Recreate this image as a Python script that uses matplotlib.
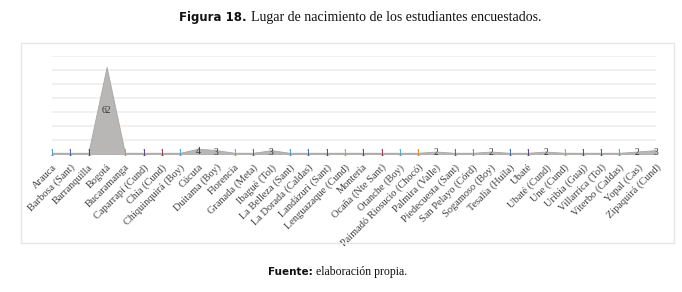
import matplotlib
matplotlib.use("Agg")
import matplotlib.pyplot as plt
from matplotlib.patches import Rectangle

ciudades = ["Arauca", "Barbosa (Sant)", "Barranquilla", "Bogotá", "Bucaramanga",
            "Caparrapí (Cund)", "Chía (Cund)", "Chiquinquirá (Boy)", "Cúcuta",
            "Duitama (Boy)", "Florencia", "Granada (Meta)", "Ibagué (Tol)",
            "La Belleza (Sant)", "La Dorada (Caldas)", "Landázuri (Sant)",
            "Lenguazaque (Cund)", "Montería", "Ocaña (Nte Sant)", "Otanche (Boy)",
            "Paimadó Riosucio (Chocó)", "Palmira (Valle)", "Piedecuesta (Sant)",
            "San Pelayo (Córd)", "Sogamoso (Boy)", "Tesalia (Huila)", "Ubaté",
            "Ubaté (Cund)", "Une (Cund)", "Uribia (Guaj)", "Villarrica (Tol)",
            "Viterbo (Caldas)", "Yopal (Cas)", "Zipaquirá (Cund)"]
estudiantes = [1, 1, 1, 62, 1, 1, 1, 1, 4, 3, 1, 1, 3, 1, 1, 1, 1, 1, 1, 1,
               1, 2, 1, 1, 2, 1, 1, 2, 1, 1, 1, 1, 2, 3]

# colores de las etiquetas de valor 1 (como en el original)
colores_uno = ["#3c8fc9", "#2f5da8", "#4b2e83", "#e08b2c", "#4b2e83",
               "#8b2942", "#3da0c8", "#d9822b", "#2f5da8"]

serif = "Liberation Serif"
sans = "DejaVu Sans"

fig = plt.figure(figsize=(6.82, 2.92), dpi=100)
W, H = 682, 292

# marco del grafico
fig.patches.append(Rectangle((21 / W, 1 - 243 / H), (674 - 21) / W, (243 - 43) / H,
                             transform=fig.transFigure, fill=False,
                             edgecolor="#e6e6e6", linewidth=1))

ax = fig.add_axes([51.7 / W, 1 - 154.3 / H, 604 / W, 98.6 / H])
x = list(range(len(ciudades)))
ax.fill_between(x, estudiantes, color="#b9b6b6", edgecolor="#a9a6a6", linewidth=0.6, zorder=2)
ax.plot(x, [0] * len(x), color="#cfcfcf", linewidth=2.5, zorder=1)

ax.set_xlim(0, len(x) - 1)
ax.set_ylim(0, 70)
ax.set_yticks(range(0, 71, 10))
ax.set_yticklabels([])
ax.grid(axis="y", color="#efefef", linewidth=1.3, zorder=0)
ax.tick_params(axis="y", length=0)
ax.tick_params(axis="x", length=0, pad=6)
for s in ax.spines.values():
    s.set_visible(False)

ax.set_xticks(x)
ax.set_xticklabels(ciudades, rotation=45, ha="right", rotation_mode="anchor",
                   fontsize=7.5, family=serif, color="#404040")

k = 0
for i, v in enumerate(estudiantes):
    if v == 1:
        c = colores_uno[k % len(colores_uno)]
        k += 1
    else:
        c = "#333333"
    ax.text(i, v / 2, str(v), ha="center", va="center", fontsize=7,
            family=serif, color=c, zorder=3)

fig.text(247 / W, 1 - 17 / H, "Figura 18.", ha="right", va="center",
         fontsize=8.5, fontweight="bold", family=sans, color="#111111")
fig.text(251 / W, 1 - 17 / H, "Lugar de nacimiento de los estudiantes encuestados.",
         ha="left", va="center", fontsize=10, family=serif, color="#111111")

fig.text(313 / W, 1 - 272 / H, "Fuente:", ha="right", va="center",
         fontsize=7.5, fontweight="bold", family=sans, color="#111111")
fig.text(316 / W, 1 - 272 / H, "elaboración propia.", ha="left", va="center",
         fontsize=8.5, family=serif, color="#111111")

fig.savefig("out.png", dpi=100)
